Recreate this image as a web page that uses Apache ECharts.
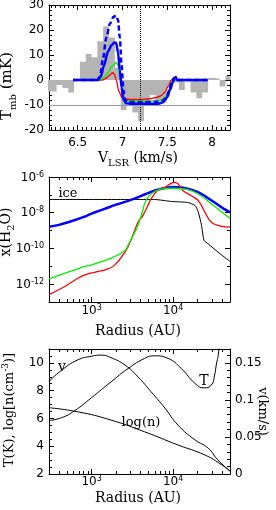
<!DOCTYPE html>
<html><head><meta charset="utf-8">
<script src="https://cdn.jsdelivr.net/npm/echarts@6/dist/echarts.min.js"></script>
<style>html,body{margin:0;padding:0;background:#fff}#c{width:276px;height:510px}</style>
</head><body><div id="c"></div>
<script>
// ---------- Panel 1: spectrum ----------
const histEdges = [6.135,6.20,6.265,6.33,6.395,6.46,6.525,6.59,6.655,6.72,6.785,6.85,6.915,6.98,7.045,7.11,7.175,7.24,7.305,7.37,7.435,7.50,7.565,7.63,7.695,7.76,7.825,7.89,7.955,8.02,8.085,8.15,8.215];
const histT = [-4.6,-4.6,-2.0,-3.2,-5.0,-0.4,7.3,10.4,9.1,15.5,21.4,17,5,-12,-9,-13,-16.5,-9.5,-6,-8,-8,-3,-1,-4,-0.3,-5,-7.3,-5,0.9,0.4,-2.6,1.6];

const blueDashV = [6.45,6.72,6.75,6.78,6.82,6.86,6.90,6.93,6.95,6.97,6.99,7.01,7.03,7.06,7.20,7.40,7.45,7.49,7.52,7.55,7.575,7.59,7.61,7.95];
const blueDashT = [0,0,1.5,8,17,22.5,25.3,25.8,24,17,6,-4,-8,-8.8,-8.8,-8.7,-8.3,-7,-4.5,-1,0.8,0.6,0,0];
const blueV = [6.45,6.73,6.76,6.79,6.84,6.88,6.91,6.93,6.95,6.97,6.99,7.01,7.04,7.10,7.40,7.46,7.50,7.53,7.56,7.58,7.595,7.61,7.95];
const blueT = [0,0,1.5,5.5,11.5,14,15,14.8,11,4,-3,-7.7,-9.3,-9.5,-9.5,-8.8,-6.8,-4,-1,0.8,1.2,0,0];
const greenV = [6.45,6.75,6.79,6.84,6.88,6.93,6.95,6.97,6.99,7.02,7.05,7.30,7.42,7.48,7.52,7.55,7.57,7.95];
const greenT = [0,0,1,3,5.5,6.9,6,2,-3,-7.5,-8.3,-8.5,-8.2,-6.8,-4,-1.2,0,0];
const redV = [6.45,6.78,6.82,6.86,6.89,6.91,6.93,6.96,6.99,7.03,7.10,7.20,7.30,7.38,7.43,7.47,7.51,7.545,7.56,7.58,7.95];
const redT = [0,0,0.8,2,2.9,2.3,0,-4.5,-6.8,-7.6,-7.8,-7.8,-7.5,-7,-6.3,-5,-2.5,0,0.4,0,0];

const p1XMajor = [6.5,7,7.5,8];
const p1YMajor = [-20,-10,0,10,20,30];

// ---------- Panel 2: abundance ----------
const blueR = [300,398,562,794,1000,1413,1995,3090,4467,6310,8318,10000,13180,17780,22390,28180,35480,42660,50000];
const blueX = [1.66e-9,2.09e-9,3.31e-9,5.75e-9,8.91e-9,1.58e-8,2.82e-8,5.37e-8,1.05e-7,1.91e-7,2.51e-7,2.75e-7,2.51e-7,1.78e-7,1.12e-7,5.62e-8,2.82e-8,1.58e-8,1.05e-8];
const greenR = [300,676,1096,1738,2570,2818,3090,3388,3715,3981,4266,4467,4898,5370,6310,7244,9550,13800,20420,29510,39810,50000];
const greenX = [2.0e-12,7.24e-12,1.38e-11,2.88e-11,7.76e-11,1.58e-10,3.55e-10,8.13e-10,2.0e-9,5.0e-9,1.41e-8,3.16e-8,7.08e-8,1.12e-7,1.78e-7,2.14e-7,2.34e-7,2.14e-7,1.12e-7,3.16e-8,1.07e-8,4.9e-9];
const redR = [300,457,794,1380,1585,1905,2570,3090,3715,4266,4898,5370,6457,7943,9550,10470,11480,13180,16600,20420,24550,29510,39810,50000];
const redX = [2.57e-13,6.92e-13,3.09e-12,5.89e-12,7.08e-12,1.12e-11,6.17e-11,3.47e-10,2.95e-9,6.92e-9,2.51e-8,5.89e-8,1.74e-7,2.63e-7,4.57e-7,5.01e-7,4.17e-7,1.74e-7,9.12e-8,4.79e-8,1.07e-8,2.95e-9,1.70e-9,1.55e-9];
const iceR = [300,5888,9550,15140,18620,20420,22390,23990,26920,35480,50000];
const iceX = [5.5e-8,5.5e-8,4.27e-8,3.72e-8,2.51e-8,1.07e-8,1.91e-9,2.82e-10,1.82e-10,6.31e-11,1.86e-11];

const rMajor = [1000,10000];
const rMinor = [400,500,600,700,800,900,2000,3000,4000,5000,6000,7000,8000,9000,20000,30000,40000];
const xMajor = [1e-12,1e-10,1e-8,1e-6];
const xMinor = [1e-11,1e-9,1e-7];

// ---------- Panel 3: physical structure ----------
const vR = [300,427,676,1000,1318,1738,2570,3715,5370,7943,11480,18620,26920,35480,50000];
const vKms = [0.125,0.140,0.154,0.159,0.1605,0.157,0.147,0.131,0.111,0.089,0.066,0.046,0.035,0.019,0.004];
const tR = [300,427,617,1000,1738,2818,4467,5888,8710,12590,18620,23990,29510,32360,33880,36310,39810];
const tK = [5.85,6.05,6.55,7.5,8.64,9.6,10.32,10.51,10.32,9.6,8.52,8.2,8.4,9.12,9.84,10.8,14];
const nR = [300,676,1738,4467,11480,24550,39810,50000];
const logN = [6.77,6.48,5.88,5.04,4.09,3.37,2.65,2.2];

const p3LMajor = [2,4,6,8,10];
const p3RMajor = [0,0.05,0.1,0.15];

// ---------- helpers ----------
const TICKF = 'DejaVu Sans';
const TITLEF = 'DejaVu Serif';
function range(a, b, step, skip) {
  const out = [];
  for (let k = 0; a + k * step <= b + 1e-9; k++) {
    const r = +(a + k * step).toFixed(6);
    if (!skip.some(s => Math.abs(s - r) < 1e-9)) out.push(r);
  }
  return out;
}
const RICH = {
  b: {fontFamily: TICKF, fontSize: 12, color: '#000', verticalAlign: 'bottom'},
  s: {fontFamily: TICKF, fontSize: 8, color: '#000', verticalAlign: 'bottom', padding: [0, 0, 5, 0]}
};
const logFmt = v => '{b|10}{s|' + Math.round(Math.log10(v)) + '}';

const xAxes = [], yAxes = [];
function mk(list, grid, type, min, max, pos, lineShow, len, ticks, labels, fmt, margin) {
  const ax = {gridIndex: grid, type, min, max, position: pos, silent: true,
    axisLine: {show: lineShow, onZero: false, lineStyle: {color: '#000', width: 1}},
    axisTick: {show: true, inside: true, length: len, customValues: ticks, lineStyle: {color: '#000', width: 1}},
    axisLabel: {show: false},
    splitLine: {show: false}, minorTick: {show: false}, minorSplitLine: {show: false}};
  if (labels) {
    ax.axisLabel = {show: true, customValues: labels, color: '#000', fontFamily: TICKF, fontSize: 12, margin, rich: RICH};
    if (fmt) ax.axisLabel.formatter = fmt;
  }
  if (type === 'log') ax.logBase = 10;
  list.push(ax);
  return list.length - 1;
}
function side(list, grid, type, min, max, pos, major, minor, labels, fmt, margin) {
  const i = mk(list, grid, type, min, max, pos, true, 5, major, labels, fmt, margin);
  mk(list, grid, type, min, max, pos, false, 3, minor, null);
  return i;
}

// panel 1 axes
const p1xMinor = range(6.2, 8.2, 0.05, p1XMajor);
const p1yMinor = range(-18, 28, 2, p1YMajor);
const x1 = side(xAxes, 0, 'value', 6.18, 8.2, 'bottom', p1XMajor, p1xMinor, p1XMajor, null, 7);
side(xAxes, 0, 'value', 6.18, 8.2, 'top', p1XMajor, p1xMinor, null);
const y1 = side(yAxes, 0, 'value', -20, 30, 'left', p1YMajor, p1yMinor, p1YMajor, null, 5);
side(yAxes, 0, 'value', -20, 30, 'right', p1YMajor, p1yMinor, null);

// panel 2 axes
const x2 = side(xAxes, 1, 'log', 300, 50000, 'bottom', rMajor, rMinor, rMajor, logFmt, 2);
side(xAxes, 1, 'log', 300, 50000, 'top', rMajor, rMinor, null);
const y2 = side(yAxes, 1, 'log', 1e-13, 1.0001e-6, 'left', xMajor, xMinor, xMajor, logFmt, 5);
side(yAxes, 1, 'log', 1e-13, 1.0001e-6, 'right', xMajor, xMinor, null);

// panel 3 axes
const x3 = side(xAxes, 2, 'log', 300, 50000, 'bottom', rMajor, rMinor, rMajor, logFmt, 1);
side(xAxes, 2, 'log', 300, 50000, 'top', rMajor, rMinor, null);
const y3 = side(yAxes, 2, 'value', 2, 11, 'left', p3LMajor, range(2.5, 11, 0.5, p3LMajor), p3LMajor, null, 5);
const y3r = side(yAxes, 2, 'value', 0, 0.16875, 'right', p3RMajor, range(0.01, 0.16, 0.01, p3RMajor), p3RMajor, null, 5);

function line(xi, yi, xs, ys, color, width, extra) {
  return Object.assign({type: 'line', xAxisIndex: xi, yAxisIndex: yi,
    data: xs.map((x, i) => [x, ys[i]]), symbol: 'none', smooth: 0.5,
    lineStyle: {color, width}, animation: false, silent: true, clip: true, z: 3}, extra || {});
}
const mono = {smooth: 0.3, smoothMonotone: 'x'};

const histData = histT.map((v, i) => [histEdges[i], v]);
histData.push([histEdges[histT.length], histT[histT.length - 1]]);

const series = [
  {type: 'line', xAxisIndex: x1, yAxisIndex: y1, data: histData, step: 'end', symbol: 'none',
   lineStyle: {opacity: 0}, areaStyle: {color: '#b4b4b4', opacity: 1, origin: 'auto'},
   animation: false, silent: true, clip: true, z: 1,
   markLine: {symbol: ['none', 'none'], silent: true, animation: false, label: {show: false},
     data: [{xAxis: 7.2, lineStyle: {color: '#000', type: 'dotted', width: 1}},
            {yAxis: -10, lineStyle: {color: '#999', type: 'solid', width: 1}}]}},
  line(x1, y1, redV, redT, '#ff0000', 1.3, mono),
  line(x1, y1, greenV, greenT, '#00ee00', 1.3, mono),
  line(x1, y1, blueDashV, blueDashT, '#0000ff', 2.5, Object.assign({lineStyle: {color: '#0000ff', width: 2.5, type: [5, 3]}}, mono)),
  line(x1, y1, blueV, blueT, '#0000ff', 2.5, mono),

  line(x2, y2, iceR, iceX, '#000000', 1, {smooth: 0.2}),
  line(x2, y2, blueR, blueX, '#0000ff', 2.5),
  line(x2, y2, redR, redX, '#ff0000', 1.3, {smooth: 0.4}),
  line(x2, y2, greenR, greenX, '#00ee00', 1.3, {smooth: 0.4}),

  line(x3, y3, tR, tK, '#000', 1),
  line(x3, y3, nR, logN, '#000', 1),
  line(x3, y3r, vR, vKms, '#000', 1)
];

// text
function txt(x, y, text, size, rot, rich) {
  return {type: 'text', x, y, rotation: rot || 0, silent: true, z: 100,
    style: {text, fill: '#000', fontFamily: TITLEF, fontSize: size, align: 'center', verticalAlign: 'middle', rich: rich}};
}
function subRich(size) {
  return {a: {fontFamily: TITLEF, fontSize: size, fill: '#000', verticalAlign: 'bottom', padding: [0, 0, 3, 0]},
          s: {fontFamily: TITLEF, fontSize: Math.round(size * 0.68), fill: '#000', verticalAlign: 'bottom'}};
}
function supRich(size) {
  return {a: {fontFamily: TITLEF, fontSize: size, fill: '#000', verticalAlign: 'bottom'},
          p: {fontFamily: TITLEF, fontSize: Math.round(size * 0.68), fill: '#000', verticalAlign: 'bottom', padding: [0, 0, 6, 0]}};
}
const graphic = [
  txt(138, 160, '{a|V}{s|LSR}{a| (km/s)}', 14, 0, subRich(14)),
  txt(9, 86, '{a|T}{s|mb}{a| (mK)}', 15, Math.PI / 2, subRich(15)),
  txt(138, 331, 'Radius (AU)', 14),
  txt(8, 232, '{a|x(H}{s|2}{a|O)}', 14, Math.PI / 2, subRich(14)),
  txt(138, 498, 'Radius (AU)', 14),
  txt(9, 410, '{a|T(K), log[n(cm}{p|-3}{a|)]}', 13, Math.PI / 2, supRich(13)),
  txt(262, 411.5, 'v(km/s)', 13, -Math.PI / 2),
  txt(68, 194, 'ice', 13),
  txt(62, 367, 'v', 14),
  txt(204, 381, 'T', 14),
  txt(141, 423, 'log(n)', 13)
];

const chart = echarts.init(document.getElementById('c'), null, {renderer: 'canvas'});
chart.setOption({
  animation: false,
  backgroundColor: '#fff',
  grid: [
    {left: 49, top: 5, width: 181, height: 125, containLabel: false, outerBoundsMode: 'none'},
    {left: 49, top: 177, width: 181, height: 125, containLabel: false, outerBoundsMode: 'none'},
    {left: 49, top: 349, width: 181, height: 125, containLabel: false, outerBoundsMode: 'none'}
  ],
  xAxis: xAxes,
  yAxis: yAxes,
  series,
  graphic
});
</script></body></html>
